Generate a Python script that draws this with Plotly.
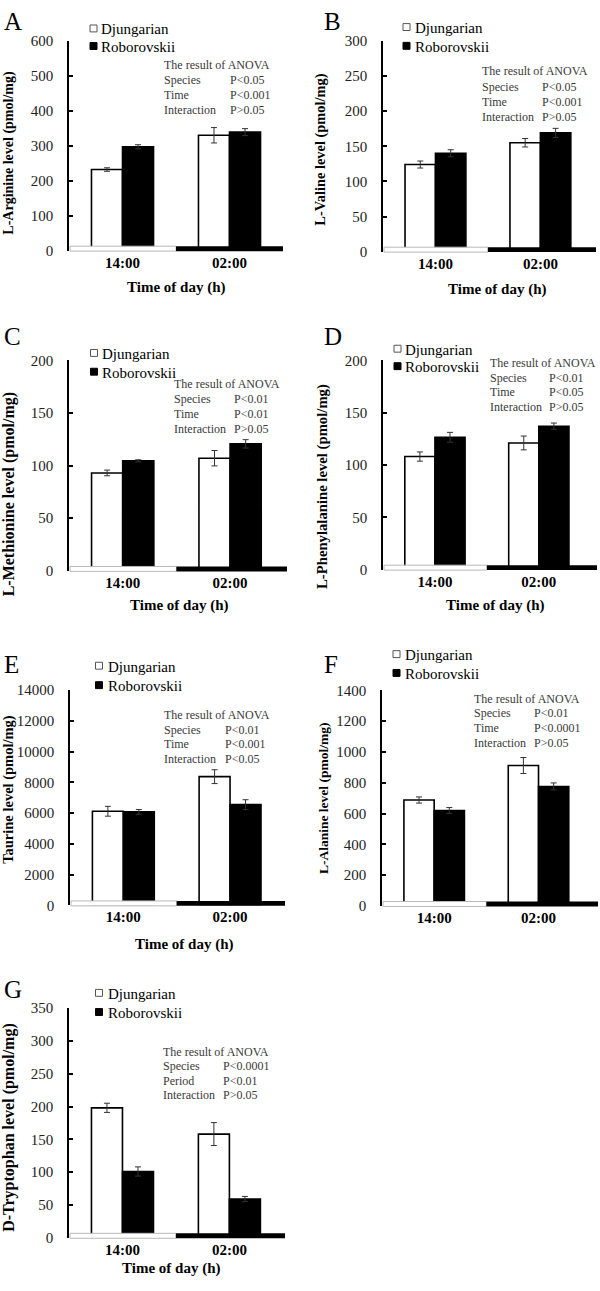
import plotly.graph_objects as go

# ---------------- data ----------------
categories = ["14:00", "02:00"]
species = ["Djungarian", "Roborovskii"]
panel_letters = ["A", "B", "C", "D", "E", "F", "G"]

y_titles = [
    "L-Arginine level (pmol/mg)",
    "L-Valine level (pmol/mg)",
    "L-Methionine level (pmol/mg)",
    "L-Phenylalanine level (pmol/mg)",
    "Taurine level (pmol/mg)",
    "L-Alanine level (pmol/mg)",
    "D-Tryptophan level (pmol/mg)",
]

arginine_djungarian = [232, 330]
arginine_djungarian_sem = [5, 22]
arginine_roborovskii = [297, 339]
arginine_roborovskii_sem = [6, 10]

valine_djungarian = [124, 155]
valine_djungarian_sem = [5, 6]
valine_roborovskii = [140, 169]
valine_roborovskii_sem = [5, 6.5]

methionine_djungarian = [93, 107]
methionine_djungarian_sem = [2.7, 7.3]
methionine_roborovskii = [104.5, 120.6]
methionine_roborovskii_sem = [1, 4]

phenylalanine_djungarian = [108, 121]
phenylalanine_djungarian_sem = [4.4, 6.6]
phenylalanine_roborovskii = [126.4, 137]
phenylalanine_roborovskii_sem = [4.7, 3]

taurine_djungarian = [6120, 8370]
taurine_djungarian_sem = [320, 450]
taurine_roborovskii = [6080, 6550]
taurine_roborovskii_sem = [150, 320]

alanine_djungarian = [688, 912]
alanine_djungarian_sem = [20, 52]
alanine_roborovskii = [620, 776]
alanine_roborovskii_sem = [19, 23]

tryptophan_djungarian = [198, 158]
tryptophan_djungarian_sem = [7, 17.5]
tryptophan_roborovskii = [101, 59]
tryptophan_roborovskii_sem = [7, 4]

y_max = [600, 300, 200, 200, 14000, 1400, 350]
y_dtick = [100, 50, 50, 50, 2000, 200, 50]

anova_labels = [
    ["Species", "Time", "Interaction"],
    ["Species", "Time", "Interaction"],
    ["Species", "Time", "Interaction"],
    ["Species", "Time", "Interaction"],
    ["Species", "Time", "Interaction"],
    ["Species", "Time", "Interaction"],
    ["Species", "Period", "Interaction"],
]
anova_p = [
    ["P&lt;0.05", "P&lt;0.001", "P&gt;0.05"],
    ["P&lt;0.05", "P&lt;0.001", "P&gt;0.05"],
    ["P&lt;0.01", "P&lt;0.01", "P&gt;0.05"],
    ["P&lt;0.01", "P&lt;0.05", "P&gt;0.05"],
    ["P&lt;0.01", "P&lt;0.001", "P&lt;0.05"],
    ["P&lt;0.01", "P&lt;0.0001", "P&gt;0.05"],
    ["P&lt;0.0001", "P&lt;0.01", "P&gt;0.05"],
]

dj_values = [arginine_djungarian, valine_djungarian, methionine_djungarian,
             phenylalanine_djungarian, taurine_djungarian, alanine_djungarian,
             tryptophan_djungarian]
dj_sems = [arginine_djungarian_sem, valine_djungarian_sem, methionine_djungarian_sem,
           phenylalanine_djungarian_sem, taurine_djungarian_sem, alanine_djungarian_sem,
           tryptophan_djungarian_sem]
rob_values = [arginine_roborovskii, valine_roborovskii, methionine_roborovskii,
              phenylalanine_roborovskii, taurine_roborovskii, alanine_roborovskii,
              tryptophan_roborovskii]
rob_sems = [arginine_roborovskii_sem, valine_roborovskii_sem, methionine_roborovskii_sem,
            phenylalanine_roborovskii_sem, taurine_roborovskii_sem, alanine_roborovskii_sem,
            tryptophan_roborovskii_sem]

# ---------------- layout geometry (pixels) ----------------
# the page keeps an 8px body margin while it is measured, so the figure is
# made 8px shorter than the window to be captured without any rescaling
W, H = 600, 1283
FONT = "Liberation Serif"

geom = [
    dict(x0=69, x1=283, yt=33.3, yb=245.7, r1=1.50),
    dict(x0=383, x1=596, yt=33.3, yb=246.7, r1=1.53),
    dict(x0=69, x1=287, yt=356.7, yb=570.0, r1=1.53),
    dict(x0=383, x1=597, yt=356.7, yb=568.7, r1=1.56),
    dict(x0=70, x1=285, yt=690.7, yb=908.7, r1=1.515),
    dict(x0=382, x1=598, yt=691.0, yb=909.3, r1=1.57),
    dict(x0=69, x1=285, yt=1012.7, yb=1245.3, r1=1.52),
]
letter_pos = [(2, 13.5), (321.7, 13.3), (2, 333), (321.7, 333),
              (2, 664.7), (321.7, 664.7), (2, 994)]
legend_pos = [(90, 20.7, 38.5, 99), (403, 19.3, 38.3, 413), (90.5, 349.3, 368.3, 100),
              (394, 345, 362.7, 403), (95.5, 666, 685.7, 106), (393, 654.3, 673.3, 403),
              (95.5, 997.3, 1016.7, 106)]
anova_pos = [(161.5, 228, 58, 15.2), (480, 540, 64.3, 15.2), (172.3, 231.7, 381, 15.2),
             (487.7, 546.7, 359.3, 15), (161.7, 223.3, 715.7, 15), (472.3, 531.7, 699.3, 15),
             (161, 221, 1056.7, 14.8)]
ytitle_pos = [(9, 146.5, 14), (321, 143.5, 14.4), (9, 492.5, 16), (323, 485, 14.7),
              (9, 791.7, 14.5), (323, 800, 13.5), (9, 1134, 16)]
xtitle_pos = [(175.5, 283.3), (496.7, 285), (179, 605), (495, 605), (184, 948.3),
              None, (171, 1276.5)]


def px(x):
    return x / W


def py(y):
    return 1 - y / H


fig = go.Figure()
shapes = []
annotations = []

for i in range(7):
    g = geom[i]
    sfx = "" if i == 0 else str(i + 1)
    xa, ya = "x" + sfx, "y" + sfx

    fig.add_trace(go.Bar(
        x=categories, y=dj_values[i], name=species[0], xaxis=xa, yaxis=ya,
        marker=dict(color="white", line=dict(color="black", width=1.6)),
        error_y=dict(type="data", array=dj_sems[i], color="#333", thickness=1, width=3),
        showlegend=False, offsetgroup="dj",
    ))
    fig.add_trace(go.Bar(
        x=categories, y=rob_values[i], name=species[1], xaxis=xa, yaxis=ya,
        marker=dict(color="black", line=dict(color="black", width=1.6)),
        error_y=dict(type="data", array=rob_sems[i], color="#333", thickness=1, width=3),
        showlegend=False, offsetgroup="rob",
    ))

    fig.layout["xaxis" + sfx] = dict(
        domain=[px(g["x0"]), px(g["x1"])], anchor=ya, type="category",
        range=[-0.5, g["r1"]], showline=False, showgrid=False, zeroline=False,
        ticks="", tickfont=dict(family=FONT, size=15, color="black", weight="bold"),
        ticklabelstandoff=1, fixedrange=True,
    )
    fig.layout["yaxis" + sfx] = dict(
        domain=[py(g["yb"]), py(g["yt"])], anchor=xa, range=[0, y_max[i]],
        dtick=y_dtick[i], tick0=0, tickformat="d",
        showline=True, linecolor="black", linewidth=1.5,
        ticks="inside", ticklen=4, tickwidth=1.5, tickcolor="black",
        showgrid=False, zeroline=False,
        tickfont=dict(family=FONT, size=15, color="#222"),
        ticklabelstandoff=11, fixedrange=True,
    )

    # light / dark strip along the bottom of each panel
    xmid = g["x0"] + (0.5 - (-0.5)) / (g["r1"] + 0.5) * (g["x1"] - g["x0"])
    shapes.append(dict(type="rect", xref="paper", yref="paper", layer="above",
                       x0=px(g["x0"] + 1), x1=px(xmid), y0=py(g["yb"] + 0.5), y1=py(g["yb"] - 4.5),
                       fillcolor="white", line=dict(color="#b8b8b8", width=1)))
    shapes.append(dict(type="rect", xref="paper", yref="paper", layer="above",
                       x0=px(xmid), x1=px(g["x1"]), y0=py(g["yb"] + 0.5), y1=py(g["yb"] - 4.5),
                       fillcolor="black", line=dict(color="black", width=0)))

    # panel letter
    lx, lyc = letter_pos[i]
    annotations.append(dict(text=panel_letters[i], xref="paper", yref="paper",
                            x=px(lx), y=py(lyc), xanchor="left", yanchor="middle",
                            showarrow=False, font=dict(family=FONT, size=25, color="black")))

    # legend: squares + labels
    sx, r1y, r2y, tx = legend_pos[i]
    shapes.append(dict(type="rect", xref="paper", yref="paper", x0=px(sx), x1=px(sx + 7),
                       y0=py(r1y + 3.5), y1=py(r1y - 3.5), fillcolor="white",
                       line=dict(color="#555", width=1)))
    shapes.append(dict(type="rect", xref="paper", yref="paper", x0=px(sx), x1=px(sx + 7),
                       y0=py(r2y + 3.5), y1=py(r2y - 3.5), fillcolor="black",
                       line=dict(color="black", width=1)))
    for lbl, ry in ((species[0], r1y), (species[1], r2y)):
        annotations.append(dict(text=lbl, xref="paper", yref="paper", x=px(tx), y=py(ry + 1),
                                xanchor="left", yanchor="middle", showarrow=False,
                                font=dict(family=FONT, size=15, color="black")))

    # ANOVA text block
    ax_l, ax_p, ay0, dy = anova_pos[i]
    afont = dict(family=FONT, size=12, color="#3a3a3a")
    annotations.append(dict(text="The result of ANOVA", xref="paper", yref="paper",
                            x=px(ax_l), y=py(ay0), xanchor="left", yanchor="middle",
                            showarrow=False, font=afont))
    for k in range(3):
        yy = ay0 + dy * (k + 1)
        annotations.append(dict(text=anova_labels[i][k], xref="paper", yref="paper",
                                x=px(ax_l), y=py(yy), xanchor="left", yanchor="middle",
                                showarrow=False, font=afont))
        annotations.append(dict(text=anova_p[i][k], xref="paper", yref="paper",
                                x=px(ax_p), y=py(yy), xanchor="left", yanchor="middle",
                                showarrow=False, font=afont))

    # y-axis title
    tx_, ty_, tsz = ytitle_pos[i]
    annotations.append(dict(text=y_titles[i], xref="paper", yref="paper", x=px(tx_), y=py(ty_),
                            xanchor="center", yanchor="middle", textangle=-90, showarrow=False,
                            font=dict(family=FONT, size=tsz, color="black", weight="bold")))

    # x-axis title
    if xtitle_pos[i] is not None:
        xx, xy = xtitle_pos[i]
        annotations.append(dict(text="Time of day (h)", xref="paper", yref="paper",
                                x=px(xx), y=py(xy), xanchor="center", yanchor="middle",
                                showarrow=False,
                                font=dict(family=FONT, size=15, color="black", weight="bold")))

fig.update_layout(
    width=W, height=H, autosize=False,
    margin=dict(l=0, r=0, t=0, b=0, pad=0),
    paper_bgcolor="white", plot_bgcolor="white",
    barmode="group", bargap=0.42, bargroupgap=0,
    shapes=shapes, annotations=annotations,
    showlegend=False,
    font=dict(family=FONT),
)

post = (
    "document.body.style.margin='0';"
    "document.body.style.padding='0';"
)

fig.write_html("out.html", config={"displayModeBar": False}, post_script=post)
